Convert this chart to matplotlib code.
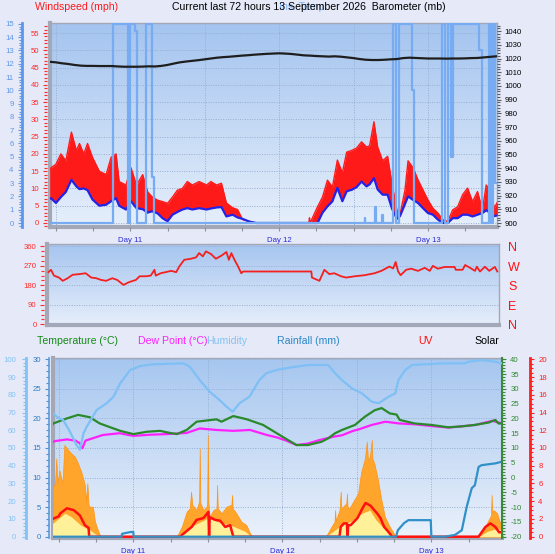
import numpy as np
import matplotlib
matplotlib.use("Agg")
import matplotlib.pyplot as plt
import matplotlib.colors as mcolors
import matplotlib.transforms as mtransforms
from matplotlib.ticker import MultipleLocator, FixedLocator

plt.rcParams["font.family"] = ["Liberation Sans", "DejaVu Sans"]
plt.rcParams["axes.unicode_minus"] = False

# ---------------------------------------------------------------- data
# time in hours relative to midnight starting "Day 11"
day_hours = [0, 24, 48]
day_labels = ["Day 11", "Day 12", "Day 13"]

wind_t = [-13.0, -12.8, -12.0, -11.2, -10.4, -9.5, -8.7, -8.2, -7.5, -6.9, -6.1, -5.0, -3.9, -3.1,
          -2.3, -1.8, -0.7, 0.1, 1.0, 2.0, 2.8, 3.5, 4.4, 5.2, 6.0, 6.8, 7.6, 8.4, 9.2, 10.0, 11.1,
          12.3, 13.0, 13.9, 14.7, 15.5, 16.5, 17.3, 18.1, 19.2, 20.3, 28.8, 28.9, 29.0, 30.2, 31.0,
          31.8, 32.6, 33.4, 34.2, 34.9, 35.7, 36.5, 37.3, 38.1, 38.6, 39.3, 39.9, 40.7, 41.5, 42.2,
          43.0, 43.5, 44.3, 44.8, 45.6, 46.4, 47.2, 48.0, 48.8, 49.6, 50.4, 51.2, 52.0, 52.8, 53.6,
          54.4, 55.2, 56.0, 56.8, 57.4, 58.2, 58.7, 59.2]
gust_mph = [15, 16, 17, 20, 18, 26.3, 21, 23, 20, 23, 19, 15, 14, 19, 20, 12, 11, 16, 11, 14, 9,
            7.6, 6.6, 6.2, 5.7, 7.5, 9.5, 10, 12, 11, 12, 11, 12, 11, 11.5, 5.8, 4.4, 3.9, 1, 0.5,
            0, 0, 1.5, 0, 4.7, 7.5, 12.4, 10.4, 18.2, 14.5, 20.5, 21, 21.7, 23.5, 22, 22.4, 29.3,
            22, 18, 19.3, 11.5, 3.8, 2.5, 9.5, 18, 16, 12.5, 9.6, 6.7, 4.3, 2.9, 1, 0.5, 3.8, 4.7,
            8.2, 10.1, 6.2, 9.1, 3.9, 11, 9.1, 4.3, 6]
avg_mph = [7, 7.2, 5.8, 7.5, 9, 12.5, 10.6, 9.8, 10, 9.5, 6.8, 5.0, 5.3, 6.3, 7.2, 5.0, 3.9, 6.3,
           4.3, 4.0, 3.0, 3.4, 2.8, 1.4, 0.5, 2.4, 3.2, 3.9, 4.3, 3.9, 4.3, 3.9, 4.2, 4.5, 4.6, 1.9,
           2.4, 1.6, 1.2, 0.4, 0, 0, 0, 0, 0, 3.0, 4.8, 6.3, 10.2, 6.3, 9.2, 9.6, 10.4, 12, 10.6,
           11.2, 13, 9.7, 8.2, 8.2, 4.2, 1.2, 2.0, 5.5, 7.7, 6.7, 5.8, 4.3, 2.9, 2.4, 1.0, 0, 0,
           1.4, 1.4, 2.4, 2.4, 1.9, 2.4, 2.9, 3.7, 2.8, 2.0, 2.2]

# light-blue step series on the 0-15 scale
aux_t = [-13, -2.8, -0.4, -0.1, 0.8, 1.0, 2.6, 3.5, 3.9, 37.8, 37.9, 39.5, 39.6, 40.6, 40.7, 42.4,
         42.9, 43.4, 45.5, 45.8, 50.2, 50.8, 51.3, 51.7, 52.0, 56.3, 56.7, 57.8, 58.2, 58.5, 58.9, 59.2]
aux_v = [0, 15, 0, 15, 14.5, 0, 15, 3.5, 0, 0.4, 0, 1.2, 0, 0.6, 0, 15, 0, 15, 10, 0, 15, 0, 15, 5,
         15, 13, 0, 15, 0, 15, 3, 3]

baro_t = list(range(-13, 60))
baro_mb = [1017.6, 1017.2, 1016.5, 1016.0, 1015.3, 1014.8, 1014.6, 1014.6, 1014.5, 1014.5,
           1014.5, 1014.2, 1014.0, 1014.0, 1014.0, 1014.1, 1014.3, 1014.2, 1014.6, 1015.3,
           1016.3, 1017.2, 1017.8, 1018.3, 1018.8, 1019.4, 1020.0, 1020.6, 1021.0, 1021.3,
           1021.7, 1022.1, 1022.4, 1022.8, 1023.1, 1023.4, 1023.6, 1023.8, 1023.6, 1023.3,
           1022.8, 1022.3, 1022.1, 1021.8, 1021.6, 1021.4, 1021.6, 1021.3, 1020.8, 1020.3,
           1019.6, 1019.1, 1018.9, 1018.9, 1019.1, 1019.4, 1019.6, 1020.3, 1020.6, 1020.4,
           1020.2, 1020.0, 1020.0, 1020.0, 1019.9, 1020.0, 1020.0, 1020.1, 1020.3, 1020.4,
           1020.8, 1021.2, 1021.6]

dir_t = [-13.2, -12.8, -12.3, -11.5, -10.9, -10.1, -9.3, -8.2, -7.2, -6.3, -5.5, -4.7, -3.9, -2.9,
         -2.1, -1.1, -0.2, 0.9, 1.5, 2.5, 3.3, 3.9, 4.1, 4.9, 5.7, 6.6, 7.4, 7.9, 8.7, 9.8, 10.6,
         11.1, 11.7, 12.2, 13.0, 13.8, 14.7, 15.5, 15.9, 16.3, 16.8, 17.3, 17.9, 18.2, 29.2, 29.3,
         30.5, 31.3, 32.1, 32.9, 34.0, 34.8, 36.2, 37.8, 39.4, 40.5, 41.8, 42.4, 42.8, 43.2, 43.6,
         44.5, 45.3, 46.4, 47.5, 48.3, 48.8, 49.6, 50.7, 52.3, 52.5, 53.6, 54.0, 54.8, 55.6, 55.9,
         56.4, 57.2, 57.9, 58.8, 59.2]
dir_deg = [241, 252, 225, 216, 201, 213, 229, 232, 236, 216, 213, 205, 201, 213, 205, 182, 195,
           205, 222, 222, 225, 252, 225, 236, 241, 247, 241, 267, 298, 303, 309, 329, 314, 337,
           325, 303, 317, 334, 298, 329, 298, 272, 236, 244, 244, 216, 201, 252, 232, 236, 222,
           216, 222, 227, 236, 247, 267, 258, 288, 244, 227, 252, 257, 247, 261, 247, 270, 257,
           265, 265, 252, 252, 274, 261, 247, 266, 244, 266, 247, 265, 244]
compass_deg = [0, 90, 180, 270, 360]
compass_labels = ["N", "E", "S", "W", "N"]

temp_t = [-13, -12.9, -10.7, -8.9, -7.0, -5.4, -3.7, -2.1, 0, 2.2, 4.3, 5.9, 7.0, 8.6, 10.2, 11.8,
          13.4, 14.2, 16.1, 18.3, 20.9, 23.1, 24.5, 26.3, 28.1, 30.3, 31.4, 32.5, 33.6, 35.7, 37.3,
          38.9, 40.0, 41.3, 42.4, 42.9, 45.3, 48.0, 50.7, 52.8, 55.0, 57.2, 58.3, 58.8, 59.4]
temp_c = [18.0, 18.3, 20.0, 21.2, 20.4, 18.3, 17.0, 15.8, 14.7, 15.5, 15.8, 15.1, 14.7, 16.1, 18.9,
          19.3, 19.7, 18.9, 20.8, 19.7, 17.8, 15.0, 13.2, 11.0, 11.0, 12.1, 13.3, 15.0, 16.1, 17.8,
          20.6, 22.8, 23.5, 21.7, 21.3, 19.5, 18.3, 17.8, 17.0, 17.3, 17.8, 18.6, 19.5, 18.3, 18.3]

dew_t = [-13, -12.4, -10.7, -9.3, -8.6, -8.2, -7.7, -4.9, -2.2, 0, 2.7, 5.4, 8.6, 10.7, 13.4, 16.1,
         18.8, 21.5, 23.1, 24.5, 26.3, 28.1, 30.0, 32.2, 33.6, 35.4, 36.3, 38.4, 40.6, 42.8, 45.5,
         48.1, 50.8, 55.1, 57.8, 59.4]
dew_c = [12.1, 12.4, 12.9, 12.5, 11.6, 9.9, 12.5, 14.4, 15.0, 14.1, 14.5, 14.7, 15.1, 16.6, 16.1,
         15.8, 16.1, 14.4, 13.6, 12.6, 11.0, 11.5, 12.7, 13.8, 14.3, 15.8, 16.3, 17.8, 18.9, 18.3,
         18.0, 17.4, 16.9, 17.8, 19.2, 18.3]

hum_t = [-13, -12.9, -12.1, -11.3, -10.2, -9.2, -8.6, -8.0, -7.5, -5.9, -4.3, -3.2, -2.1, -0.5, 1.1,
         3.2, 8.1, 9.1, 10.7, 12.3, 13.9, 15.0, 16.0, 17.1, 18.7, 20.3, 21.4, 23.1, 25.5, 28.2,
         31.4, 32.5, 33.6, 35.2, 36.8, 38.4, 39.5, 41.1, 42.2, 42.7, 43.8, 44.9, 47.0, 49.7, 53.4,
         54.0, 56.1, 58.3, 59.4]
hum_pct = [70, 69.6, 67, 65.8, 59.2, 52, 49, 58.5, 62, 71.4, 75.2, 78.9, 86.5, 94, 96.2, 97.2, 97.7,
           95.8, 88.3, 81.7, 77, 73.3, 70.5, 75.2, 78.9, 88.3, 92.1, 94, 95.5, 96.8, 96.8, 92.1,
           88.3, 83.6, 80.8, 76.1, 75.2, 78.9, 80.8, 88.3, 94, 96.8, 97.2, 97.7, 97.7, 98.6, 99.6,
           98.6, 97.7]

rain_t = [-13, -1.9, -1.8, -0.4, 0.0, 0.05, 42.3, 42.6, 43.6, 44.3, 47.9, 48.0, 50.2, 51.8, 52.9,
          53.7, 54.5, 55.0, 55.6, 56.1, 58.3, 59.4]
rain_mm = [0, 0, 0.5, 0.8, 0.8, 0, 0, 1.1, 2.3, 2.8, 2.8, 0, 0, 0.3, 1.1, 5.1, 8.2, 8.7, 11.8,
           12.1, 12.4, 12.7]

uv_t = [-13, -12.0, -11.8, -10.7, -9.6, -8.6, -7.8, -7.2, -7.1, 7.5, 9.4, 10.2, 11.3, 12.1, 12.2,
        12.3, 13.2, 14.0, 14.8, 15.6, 16.1, 33.2, 33.4, 33.9, 34.4, 34.5, 34.6, 35.0, 36.1, 36.9,
        37.4, 38.2, 38.8, 39.3, 39.8, 40.4, 40.9, 41.7, 55.6, 56.7, 57.5, 58.3, 58.9, 59.4]
uv_idx = [2.0, 2.3, 2.6, 3.2, 3.0, 2.4, 1.3, 1.0, 0, 0, 1.1, 1.9, 2.1, 2.8, 0, 2.2, 1.9, 1.8, 1.1,
          1.3, 0, 0, 1.1, 1.5, 1.5, 0, 1.3, 1.3, 2.1, 3.2, 3.8, 3.5, 3.0, 2.6, 2.1, 1.1, 0.7, 0, 0,
          1.1, 1.5, 1.1, 0.5, 0.5]

solar_t = [-13, -12.6, -12.4, -12.2, -11.9, -11.4, -11.1, -10.5, -10.0, -9.4, -8.9, -8.3, -7.8,
           -7.6, -7.4, -7.2, -7.0, -6.5, -6.2, -5.9, -5.4, -5.0,
           7.0, 7.8, 8.6, 9.1, 9.3, 9.5, 10.2, 10.6, 10.7, 10.8, 11.3, 11.8, 11.9, 12.0, 12.1, 12.3,
           12.9, 13.4, 13.5, 13.6, 14.2, 15.0, 15.8, 15.9, 16.0, 16.6, 17.4, 18.2, 18.8, 19.2,
           31.0, 31.6, 32.4, 32.5, 32.6, 33.2, 33.4, 33.5, 34.3, 34.4, 34.5, 34.8, 35.4, 36.2, 36.7,
           37.3, 37.6, 37.8, 38.1, 38.4, 38.5, 38.8, 39.4, 39.9, 40.5, 41.3, 42.1, 42.3,
           55.6, 56.4, 57.2, 57.6, 57.7, 57.8, 58.0, 58.6, 58.9, 59.4]
solar_wm2 = [280, 300, 442, 300, 376, 300, 517, 489, 470, 451, 414, 357, 291, 200, 301, 180, 169,
             169, 90, 56, 10, 0,
             0, 56, 141, 160, 254, 180, 150, 200, 498, 190, 150, 169, 200, 573, 190, 113, 150, 160,
             291, 160, 132, 169, 180, 235, 160, 132, 85, 66, 19, 0,
             0, 38, 85, 150, 90, 150, 254, 160, 188, 244, 170, 160, 197, 244, 366, 442, 536, 430,
             451, 545, 440, 414, 320, 216, 113, 56, 10, 0,
             0, 38, 94, 120, 235, 130, 150, 132, 94, 60]
solar_avg_t = [-13, -11, -10, -8.5, -7, -5.9, -5.2, 7.0, 8.5, 10, 12, 14, 16, 18, 19, 31, 33.2, 35.4,
               36.8, 38.1, 39.1, 40.6, 41.8, 42.3, 55.6, 57, 58.5, 59.4]
solar_avg_wm2 = [75, 132, 113, 66, 38, 10, 0, 0, 40, 70, 104, 80, 60, 30, 0, 0, 56, 94, 132, 150,
                 94, 38, 10, 0, 0, 30, 45, 40]

legend_labels = ["Temperature (°C)", "Dew Point (°C)", "Humidity", "Rainfall (mm)", "UV", "Solar"]

# ---------------------------------------------------------------- layout
W, H = 555, 554
FIG_BG = "#E5E9F8"
GRID = "#97AED0"
TICK_FS = 5.6
TITLE_FS = 7.6

fig = plt.figure(figsize=(W / 100, H / 100), dpi=100, facecolor=FIG_BG)


def rect(l, t, r, b):
    return [l / W, 1 - b / H, (r - l) / W, (b - t) / H]


def make_bg(r, top, bottom):
    bg = fig.add_axes(r, zorder=0)
    c1 = np.array(mcolors.to_rgb(top))
    c2 = np.array(mcolors.to_rgb(bottom))
    f = np.linspace(0, 1, 256)[:, None, None]
    bg.imshow(c1 * (1 - f) + c2 * f, extent=[0, 1, 0, 1], aspect="auto",
              interpolation="bilinear")
    bg.set_xlim(0, 1)
    bg.set_ylim(0, 1)
    bg.set_xticks([])
    bg.set_yticks([])
    for s in bg.spines.values():
        s.set_color("#A4A8B6")
        s.set_linewidth(1.0)
    bg.spines["left"].set_linewidth(3)
    bg.spines["bottom"].set_linewidth(3)
    return bg


def data_axes(r, z):
    ax = fig.add_axes(r, zorder=z)
    ax.patch.set_visible(False)
    for s in ax.spines.values():
        s.set_visible(False)
    return ax


def twin(ax, z):
    t = ax.twinx()
    t.set_zorder(z)
    t.patch.set_visible(False)
    for s in t.spines.values():
        s.set_visible(False)
    return t


def style_y(ax, major, minor, color, labelcolor=None, pad=2.5, lmaj=3, lmin=2):
    ax.yaxis.set_major_locator(MultipleLocator(major))
    ax.yaxis.set_minor_locator(MultipleLocator(minor))
    ax.tick_params(axis="y", which="both", colors=color,
                   labelcolor=labelcolor or color, labelsize=TICK_FS,
                   direction="out", pad=pad, width=0.8)
    ax.tick_params(axis="y", which="major", length=lmaj)
    ax.tick_params(axis="y", which="minor", length=lmin)


def style_x(ax):
    ax.set_xticks(day_hours, day_labels)
    ax.xaxis.set_minor_locator(MultipleLocator(6))
    ax.tick_params(axis="x", which="both", colors="#8E909C", labelcolor="#2A2AD6",
                   labelsize=TICK_FS, length=3, width=0.8, direction="out", pad=4)


# ================= panel 1 : wind + barometer
P1 = rect(50, 23, 497, 227)
make_bg(P1, "#A4C4EF", "#E6EFFB")
ax1 = data_axes(P1, 1)
ax1.set_xlim((50 - 130.3) / 6.2, (497 - 130.3) / 6.2)
ax1.set_ylim(-1.16, 57.9)
style_y(ax1, 5, 1, "#FF2A2A")
ax1.spines["left"].set_position(("axes", -3 / 447))
ax1.grid(axis="y", which="major", color=GRID, lw=0.7, ls=(0, (1, 1.5)))
for h in np.arange(-12, 60, 12):
    ax1.axvline(h, color=GRID, lw=0.7, ls=(0, (1, 1.5)), zorder=0.5)
style_x(ax1)
ax1.fill_between(wind_t, avg_mph, gust_mph, color="#FF1A1A", lw=0, zorder=2)
ax1.plot(wind_t, gust_mph, color="#FF1A1A", lw=1.0, zorder=2.1)
ax1.plot(wind_t, avg_mph, color="#2424E6", lw=1.6, zorder=3)

axb = twin(ax1, 2)
axb.yaxis.tick_left()
axb.spines["left"].set_visible(True)
axb.spines["left"].set_position(("axes", (22 - 50) / 447))
axb.spines["left"].set_color("#5C98EA")
axb.spines["left"].set_linewidth(2)
axb.set_ylim(-0.30, 15.07)
style_y(axb, 1, 0.2, "#5C98EA", pad=3)
axb.plot(aux_t, aux_v, drawstyle="steps-post", color="#78ACF2", lw=1.6)

axp = twin(ax1, 3)
axp.set_ylim(897.1, 1045.9)
style_y(axp, 10, 2, "#5A5C66", labelcolor="black")
axp.plot(baro_t, baro_mb, color="#1E1E1E", lw=1.6)

# ================= panel 2 : wind direction
P2 = rect(47, 244, 499, 325)
make_bg(P2, "#A6C5EF", "#E6EEFB")
ax2 = data_axes(P2, 1)
ax2.set_xlim((47 - 130.3) / 6.2, (499 - 130.3) / 6.2)
ax2.set_ylim(-3, 371)
ax2.set_xticks([])
style_y(ax2, 90, 22.5, "#FF2A2A")
ax2.spines["left"].set_position(("axes", -2.7 / 452))
ax2.grid(axis="y", which="major", color=GRID, lw=0.7, ls=(0, (1, 1.5)))
ax2.plot(dir_t, dir_deg, color="#F42020", lw=1.3, zorder=3)
lab_tr = mtransforms.blended_transform_factory(ax2.transAxes, ax2.transData) + \
    mtransforms.ScaledTranslation(9 / 100, -2 / 100, fig.dpi_scale_trans)
for d, lab in zip(compass_deg, compass_labels):
    ax2.text(1.0, d, lab, transform=lab_tr, color="#FF1010", fontsize=9,
             va="center", ha="left", clip_on=False)

# ================= panel 3 : temperature etc.
P3 = rect(52.7, 357.7, 502, 538.3)
make_bg(P3, "#A6C6EF", "#EAF1FB")
ax3 = data_axes(P3, 1)
ax3.set_xlim((52.7 - 133.3) / 6.21, (502 - 133.3) / 6.21)
ax3.set_ylim(-9, 1009)
ax3.yaxis.set_major_locator(MultipleLocator(1000 / 6))
ax3.tick_params(axis="y", length=0, labelleft=False)
ax3.grid(axis="y", which="major", color=GRID, lw=0.7, ls=(0, (1, 1.5)))
for h in np.arange(-12, 60, 12):
    ax3.axvline(h, color=GRID, lw=0.7, ls=(0, (1, 1.5)), zorder=0.5)
style_x(ax3)
ax3.fill_between(solar_t, solar_wm2, color="#FFA52C", edgecolor="#FF9414", lw=0.5, zorder=2)
ax3.fill_between(solar_avg_t, solar_avg_wm2, color="#FFF09A", lw=0, zorder=2.1)

axu = twin(ax3, 2)
axu.spines["right"].set_visible(True)
axu.spines["right"].set_position(("axes", (530 - 52.7) / 449.3))
axu.spines["right"].set_color("#FF2020")
axu.spines["right"].set_linewidth(2)
axu.set_ylim(-0.18, 20.18)
style_y(axu, 2, 0.5, "#FF2020", pad=3)
axu.plot(uv_t, uv_idx, color="#FF1010", lw=1.8)

axr = twin(ax3, 3)
axr.yaxis.tick_left()
axr.spines["left"].set_visible(True)
axr.spines["left"].set_position(("axes", (49.3 - 52.7) / 449.3))
axr.spines["left"].set_color("#5A9AD8")
axr.spines["left"].set_linewidth(1.2)
axr.set_ylim(-0.27, 30.27)
style_y(axr, 5, 1, "#4A90D8", labelcolor="#2F7EC4", pad=3)
axr.plot(rain_t, rain_mm, color="#3090C8", lw=1.6)

axt = twin(ax3, 4)
axt.spines["right"].set_visible(True)
axt.spines["right"].set_color("#3A8A3A")
axt.spines["right"].set_linewidth(1.5)
axt.set_ylim(-20.54, 40.54)
style_y(axt, 5, 1, "#3A8A3A", labelcolor="#2E8B2E", pad=3)
axt.plot(dew_t, dew_c, color="#FF20FF", lw=1.6)
axt.plot(temp_t, temp_c, color="#2A8A2A", lw=1.6)

axh = twin(ax3, 5)
axh.yaxis.tick_left()
axh.spines["left"].set_visible(True)
axh.spines["left"].set_position(("axes", (26 - 52.7) / 449.3))
axh.spines["left"].set_color("#84C2F2")
axh.spines["left"].set_linewidth(2)
axh.set_ylim(-0.9, 100.9)
style_y(axh, 10, 2, "#84C2F2", pad=4)
axh.plot(hum_t, hum_pct, color="#7EC0F6", lw=1.6)

# ================= texts
def ftext(x, y, s, color, size=TITLE_FS):
    fig.text(x / W, 1 - y / H, s, color=color, fontsize=size, va="center", ha="left")


ftext(35, 7, "Windspeed (mph)", "#FF1A1A")
ftext(279, 7, "Ins. Temp.", "#7FB0F0")
ftext(172, 7, "Current last 72 hours 13 September 2026  Barometer (mb)", "black")

legend_x = [37, 138, 206, 277, 418, 474]
legend_colors = ["#158A15", "#FF20FF", "#84C2F2", "#2A88C8", "#FF1010", "black"]
for lx, lab, col in zip(legend_x, legend_labels, legend_colors):
    ftext(lx, 341, lab, col)

fig.savefig("out.png", dpi=100, facecolor=FIG_BG)
